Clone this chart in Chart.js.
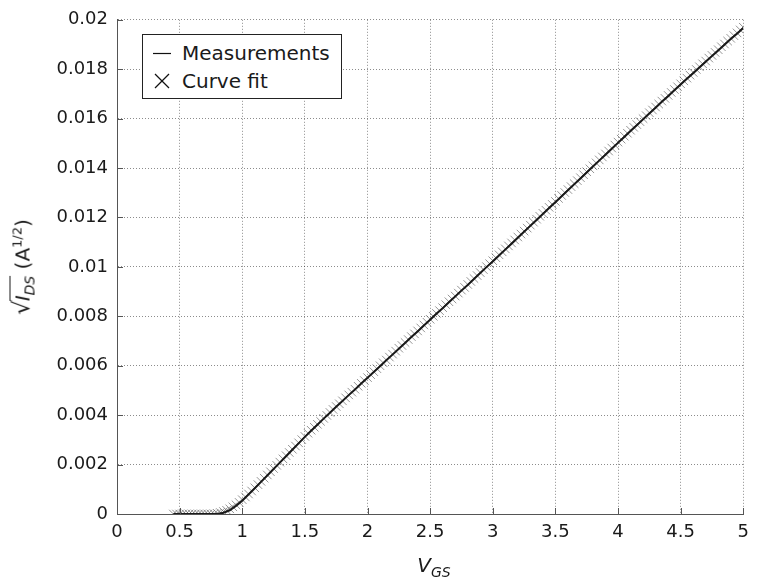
<!DOCTYPE html>
<html><head><meta charset="utf-8">
<script src="https://cdn.jsdelivr.net/npm/chart.js@4.4.0/dist/chart.umd.min.js"></script>
<style>
html,body{margin:0;padding:0;background:#fff;}
#wrap{position:relative;width:757px;height:583px;font-family:"DejaVu Sans",sans-serif;color:#1a1a1a;overflow:hidden;}
#c{position:absolute;left:0;top:0;}
#ytitle{position:absolute;left:22px;top:267px;transform:translate(-50%,-50%) rotate(-90deg);white-space:nowrap;font-size:20px;line-height:24px;}
#ytitle .rad{font-size:23px;}
#ytitle .ov{border-top:1.3px solid #1a1a1a;padding-top:0px;margin-left:-1px;}
#ytitle sub{font-size:14px;font-style:italic;vertical-align:-5px;line-height:0;}
#ytitle sup{font-size:13px;vertical-align:8px;line-height:0;}
#xtitle{position:absolute;left:434px;top:553px;transform:translateX(-50%);white-space:nowrap;font-size:20px;line-height:24px;}
#xtitle sub{font-size:14px;font-style:italic;vertical-align:-5px;line-height:0;}
#legend{position:absolute;left:142px;top:34px;width:200px;height:65px;box-sizing:border-box;border:1px solid #222;background:#fff;}
.row{position:absolute;left:0;height:24px;line-height:24px;font-size:20px;white-space:nowrap;}
.row .lbl{position:absolute;left:39px;top:0;}
.row .sym{position:absolute;left:10px;top:0;width:18px;height:24px;}
</style>
</head><body>
<div id="wrap">
<canvas id="c" width="757" height="583"></canvas>
<div id="ytitle"><span class="rad">√</span><span class="ov"><i>I</i><sub>DS</sub></span> (A<sup>1/2</sup>)</div>
<div id="xtitle"><i>V</i><sub>GS</sub></div>
<div id="legend">
  <div class="row" style="top:6px"><svg class="sym" width="18" height="24"><line x1="0" y1="12.5" x2="18" y2="12.5" stroke="#111" stroke-width="1.2"/></svg><span class="lbl">Measurements</span></div>
  <div class="row" style="top:34px"><svg class="sym" width="18" height="24"><line x1="2" y1="5" x2="16" y2="19" stroke="#111" stroke-width="1.2"/><line x1="16" y1="5" x2="2" y2="19" stroke="#111" stroke-width="1.2"/></svg><span class="lbl">Curve fit</span></div>
</div>
</div>
<script>
// ---- data ----
const xTicks = [0, 0.5, 1, 1.5, 2, 2.5, 3, 3.5, 4, 4.5, 5];
const xTickLabels = ['0', '0.5', '1', '1.5', '2', '2.5', '3', '3.5', '4', '4.5', '5'];
const yTicks = [0, 0.002, 0.004, 0.006, 0.008, 0.01, 0.012, 0.014, 0.016, 0.018, 0.02];
const yTickLabels = ['0', '0.002', '0.004', '0.006', '0.008', '0.01', '0.012', '0.014', '0.016', '0.018', '0.02'];

// Measurements (V_GS, sqrt(I_DS))
const measVgs = [0.45,
  0.5, 0.55, 0.6, 0.65, 0.7, 0.75, 0.8, 0.85, 0.9, 0.95,
  1.0, 1.05, 1.1, 1.15, 1.2, 1.25, 1.3, 1.35, 1.4, 1.45,
  1.5, 1.55, 1.6, 1.65, 1.7, 1.75, 1.8, 1.85, 1.9, 1.95,
  2.0, 2.05, 2.1, 2.15, 2.2, 2.25, 2.3, 2.35, 2.4, 2.45,
  2.5, 2.55, 2.6, 2.65, 2.7, 2.75, 2.8, 2.85, 2.9, 2.95,
  3.0, 3.05, 3.1, 3.15, 3.2, 3.25, 3.3, 3.35, 3.4, 3.45,
  3.5, 3.55, 3.6, 3.65, 3.7, 3.75, 3.8, 3.85, 3.9, 3.95,
  4.0, 4.05, 4.1, 4.15, 4.2, 4.25, 4.3, 4.35, 4.4, 4.45,
  4.5, 4.55, 4.6, 4.65, 4.7, 4.75, 4.8, 4.85, 4.9, 4.95,
  5.0];
const measSqrtIds = [0,
  0, 0, 0, 0, 0, 0, 0, 0.00005, 0.00015, 0.00033,
  0.00054, 0.00079, 0.00104, 0.0013, 0.00156, 0.00182, 0.00208, 0.00234, 0.0026, 0.00286,
  0.00312, 0.00337, 0.00361, 0.00386, 0.0041, 0.00434, 0.00457, 0.00481, 0.00504, 0.00528,
  0.00551, 0.00575, 0.00598, 0.00622, 0.00645, 0.00669, 0.00692, 0.00716, 0.00739, 0.00763,
  0.00786, 0.0081, 0.00833, 0.00857, 0.0088, 0.00904, 0.00927, 0.00951, 0.00975, 0.00999,
  0.01022, 0.01046, 0.0107, 0.01094, 0.01118, 0.01142, 0.01166, 0.0119, 0.01214, 0.01238,
  0.01262, 0.01286, 0.0131, 0.01334, 0.01358, 0.01382, 0.01406, 0.0143, 0.01454, 0.01478,
  0.01502, 0.01526, 0.0155, 0.01573, 0.01597, 0.01621, 0.01644, 0.01668, 0.01691, 0.01715,
  0.01738, 0.01761, 0.01784, 0.01807, 0.0183, 0.01853, 0.01876, 0.01899, 0.01922, 0.01944,
  0.01967];

// Curve fit (V_GS, sqrt(I_DS))
const fitVgs = [0.45, 0.475,
  0.5, 0.525, 0.55, 0.575, 0.6, 0.625, 0.65, 0.675, 0.7, 0.725,
  0.75, 0.775, 0.8, 0.825, 0.85, 0.875, 0.9, 0.925, 0.95, 0.975,
  1.0, 1.025, 1.05, 1.075, 1.1, 1.125, 1.15, 1.175, 1.2, 1.225,
  1.25, 1.275, 1.3, 1.325, 1.35, 1.375, 1.4, 1.425, 1.45, 1.475,
  1.5, 1.525, 1.55, 1.575, 1.6, 1.625, 1.65, 1.675, 1.7, 1.725,
  1.75, 1.775, 1.8, 1.825, 1.85, 1.875, 1.9, 1.925, 1.95, 1.975,
  2.0, 2.025, 2.05, 2.075, 2.1, 2.125, 2.15, 2.175, 2.2, 2.225,
  2.25, 2.275, 2.3, 2.325, 2.35, 2.375, 2.4, 2.425, 2.45, 2.475,
  2.5, 2.525, 2.55, 2.575, 2.6, 2.625, 2.65, 2.675, 2.7, 2.725,
  2.75, 2.775, 2.8, 2.825, 2.85, 2.875, 2.9, 2.925, 2.95, 2.975,
  3.0, 3.025, 3.05, 3.075, 3.1, 3.125, 3.15, 3.175, 3.2, 3.225,
  3.25, 3.275, 3.3, 3.325, 3.35, 3.375, 3.4, 3.425, 3.45, 3.475,
  3.5, 3.525, 3.55, 3.575, 3.6, 3.625, 3.65, 3.675, 3.7, 3.725,
  3.75, 3.775, 3.8, 3.825, 3.85, 3.875, 3.9, 3.925, 3.95, 3.975,
  4.0, 4.025, 4.05, 4.075, 4.1, 4.125, 4.15, 4.175, 4.2, 4.225,
  4.25, 4.275, 4.3, 4.325, 4.35, 4.375, 4.4, 4.425, 4.45, 4.475,
  4.5, 4.525, 4.55, 4.575, 4.6, 4.625, 4.65, 4.675, 4.7, 4.725,
  4.75, 4.775, 4.8, 4.825, 4.85, 4.875, 4.9, 4.925, 4.95, 4.975,
  5.0];
const fitSqrtIds = [0, 0,
  0, 0, 0, 0, 0, 0, 0, 0, 0, 0,
  0, 0.00001, 0.00003, 0.00006, 0.0001, 0.00015, 0.00021, 0.00029, 0.00037, 0.00047,
  0.00058, 0.00069, 0.00081, 0.00093, 0.00106, 0.00119, 0.00132, 0.00145, 0.00158, 0.00171,
  0.00184, 0.00197, 0.0021, 0.00223, 0.00236, 0.00249, 0.00262, 0.00275, 0.00288, 0.00301,
  0.00314, 0.00327, 0.00339, 0.00351, 0.00363, 0.00375, 0.00387, 0.00399, 0.00411, 0.00423,
  0.00435, 0.00446, 0.00458, 0.0047, 0.00482, 0.00493, 0.00505, 0.00517, 0.00529, 0.0054,
  0.00552, 0.00564, 0.00576, 0.00588, 0.006, 0.00612, 0.00623, 0.00635, 0.00647, 0.00659,
  0.00671, 0.00682, 0.00694, 0.00706, 0.00718, 0.00729, 0.00741, 0.00753, 0.00765, 0.00776,
  0.00788, 0.008, 0.00812, 0.00823, 0.00835, 0.00847, 0.00859, 0.0087, 0.00882, 0.00894,
  0.00906, 0.00917, 0.00929, 0.00941, 0.00953, 0.00965, 0.00977, 0.00989, 0.01001, 0.01013,
  0.01025, 0.01037, 0.01049, 0.01061, 0.01073, 0.01085, 0.01097, 0.01109, 0.01121, 0.01133,
  0.01145, 0.01157, 0.01169, 0.01181, 0.01193, 0.01205, 0.01217, 0.01229, 0.01241, 0.01253,
  0.01265, 0.01277, 0.01289, 0.01301, 0.01313, 0.01325, 0.01337, 0.01349, 0.01361, 0.01373,
  0.01385, 0.01397, 0.01409, 0.01421, 0.01433, 0.01445, 0.01457, 0.01469, 0.01481, 0.01493,
  0.01505, 0.01517, 0.01529, 0.01541, 0.01553, 0.01565, 0.01576, 0.01588, 0.016, 0.01612,
  0.01624, 0.01635, 0.01647, 0.01659, 0.01671, 0.01682, 0.01694, 0.01706, 0.01718, 0.01729,
  0.01741, 0.01753, 0.01764, 0.01776, 0.01787, 0.01799, 0.0181, 0.01822, 0.01833, 0.01845,
  0.01856, 0.01868, 0.01879, 0.01891, 0.01902, 0.01914, 0.01925, 0.01936, 0.01947, 0.01959,
  0.0197];

// ---- chart ----
const tickFont = {family: 'DejaVu Sans', size: 18};
const innerTicks = {
  id: 'innerTicks',
  afterDraw(chart) {
    const {ctx, chartArea: a, scales: {x, y}} = chart;
    ctx.save();
    ctx.strokeStyle = '#555';
    ctx.lineWidth = 1;
    ctx.beginPath();
    x.ticks.forEach(t => {
      const px = Math.round(x.getPixelForValue(t.value)) + 0.5;
      ctx.moveTo(px, a.bottom); ctx.lineTo(px, a.bottom - 6);
    });
    y.ticks.forEach(t => {
      const py = Math.round(y.getPixelForValue(t.value)) + 0.5;
      ctx.moveTo(a.left, py); ctx.lineTo(a.left + 6, py);
    });
    ctx.stroke();
    ctx.restore();
  }
};

new Chart(document.getElementById('c'), {
  type: 'scatter',
  data: {
    datasets: [
      {
        label: 'Measurements',
        data: measVgs.map((v, i) => ({x: v, y: measSqrtIds[i]})),
        showLine: true,
        borderColor: '#1a1a1a',
        borderWidth: 2,
        pointRadius: 0,
        fill: false,
        tension: 0
      },
      {
        label: 'Curve fit',
        data: fitVgs.map((v, i) => ({x: v, y: fitSqrtIds[i]})),
        showLine: false,
        pointStyle: 'crossRot',
        pointRadius: 6,
        pointBorderWidth: 1,
        borderColor: 'rgba(90,90,90,0.65)',
        backgroundColor: 'rgba(0,0,0,0)'
      }
    ]
  },
  options: {
    responsive: false,
    animation: false,
    devicePixelRatio: 1,
    layout: {padding: {left: 0, right: 7, top: 16, bottom: 0}},
    plugins: {legend: {display: false}, tooltip: {enabled: false}},
    scales: {
      x: {
        type: 'linear', min: 0, max: 5,
        afterBuildTicks: s => { s.ticks = xTicks.map(v => ({value: v})); },
        afterFit: s => { s.height = 69; },
        ticks: {callback: (v, i) => xTickLabels[i], autoSkip: false, maxRotation: 0, padding: 8, font: tickFont, color: '#1a1a1a'},
        grid: {color: 'rgba(0,0,0,0.45)', lineWidth: 1, drawTicks: false},
        border: {display: true, color: '#555', width: 1, dash: [1, 2]}
      },
      y: {
        type: 'linear', min: 0, max: 0.02,
        afterBuildTicks: s => { s.ticks = yTicks.map(v => ({value: v})); },
        afterFit: s => { s.width = 117; },
        ticks: {callback: (v, i) => yTickLabels[i], autoSkip: false, padding: 9, font: tickFont, color: '#1a1a1a'},
        grid: {color: 'rgba(0,0,0,0.45)', lineWidth: 1, drawTicks: false},
        border: {display: true, color: '#555', width: 1, dash: [1, 2]}
      }
    }
  },
  plugins: [innerTicks]
});
</script>
</body></html>
